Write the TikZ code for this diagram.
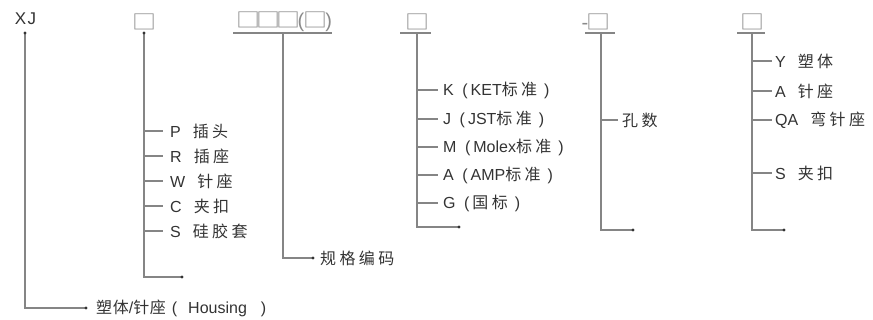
\documentclass[tikz,border=0pt]{standalone}
\usepackage{graphicx}
\usepackage{fontspec}
\setmainfont{Liberation Sans}
\newfontfamily\cjk[LetterSpace=21]{Noto Sans CJK SC}
\newfontfamily\cjkt[LetterSpace=4]{Noto Sans CJK SC}
\newfontfamily\sqf{Noto Sans CJK SC}
\definecolor{txt}{HTML}{333333}
\definecolor{ln}{HTML}{858585}
\definecolor{sqc}{HTML}{8A8A8A}
\newcommand\gp{\hspace{12pt}}
\newcommand\lpar{\hspace{8.5pt}(\hspace{3pt}}
\newcommand\rpar{\hspace{7pt})}
\newcommand\bx{\scalebox{1.2}[1]{\sqf □}}
\begin{document}
\begin{tikzpicture}[x=1pt,y=-1pt,
  hdr/.style={inner sep=0pt, font=\fontsize{20}{20}\selectfont},
  lab/.style={inner sep=0pt, anchor=west, text=txt, font=\fontsize{16}{16}\selectfont},
  conn/.style={draw=ln, line width=1.1pt},
  tip/.style={circle, fill=txt, inner sep=0pt, minimum size=3.4pt}]
\useasboundingbox (0,0) rectangle (873,320);
% headers
\node[hdr, text=txt, font=\fontsize{17}{17}\selectfont] (xj) at (25.5,19) {X\hspace{1.5pt}J};
\node[hdr, text=sqc] (h1) at (144,21.5) {\bx};
\node[hdr, text=sqc] (h2) at (284,21.5) {\bx\hspace{-4pt}\bx\hspace{-4pt}\bx\hspace{-2.5pt}(\hspace{-0.5pt}\bx\hspace{-2.5pt})};
\node[hdr, text=sqc] (h3) at (417,21.5) {\bx};
\node[hdr, text=sqc] (h4) at (596,21.5) {-\hspace{-2pt}\bx};
\node[hdr, text=sqc] (h5) at (752,21.5) {\bx};
% underlines
\draw[conn] (233,33) -- (332,33);
\draw[conn] (400,33) -- (431,33);
\draw[conn] (585,33) -- (615,33);
\draw[conn] (737,33) -- (765,33);
% trunk tops
\coordinate (t0) at (25,33);
\coordinate (t1) at (144,33);
\coordinate (t2) at (283,33);
\coordinate (t3) at (417,33);
\coordinate (t4) at (601,33);
\coordinate (t5) at (752,33);
% end labels
\node[lab] (hous) at (96,308) {{\cjkt 塑体}/{\cjkt 针座}\hspace{6pt}(\hspace{11pt}Housing\hspace{14pt})};
\node[lab] (gg) at (320,258) {\cjk 规格编码};
\coordinate (e1) at (182,277);
\coordinate (e3) at (459,227);
\coordinate (e4) at (633,230);
\coordinate (e5) at (784,230);
% group 1 labels
\node[lab] (p) at (170,131) {P\gp{\cjk 插头}};
\node[lab] (r) at (170,156) {R\gp{\cjk 插座}};
\node[lab] (w) at (170,181) {W\gp{\cjk 针座}};
\node[lab] (c) at (170,206) {C\gp{\cjk 夹扣}};
\node[lab] (s) at (170,231) {S\gp{\cjk 硅胶套}};
% group 3 labels
\node[lab] (k) at (443,90) {K\lpar KET{\cjk 标准}\rpar};
\node[lab] (j) at (443,119) {J\lpar JST{\cjk 标准}\rpar};
\node[lab] (m) at (443,147) {M\lpar Molex{\cjk 标准}\rpar};
\node[lab] (a) at (443,175) {A\lpar AMP{\cjk 标准}\rpar};
\node[lab] (g) at (443,203) {G\lpar{\cjk 国标}\rpar};
% group 4 label
\node[lab] (ks) at (622,120) {\cjk 孔数};
% group 5 labels
\node[lab] (y) at (775,61) {Y\gp{\cjk 塑体}};
\node[lab] (a5) at (775,91) {A\gp{\cjk 针座}};
\node[lab] (qa) at (775,120) {QA\gp{\cjk 弯针座}};
\node[lab] (s5) at (775,173) {S\gp{\cjk 夹扣}};
% trunks
\draw[conn] (t0) |- ([xshift=-10pt]hous.west) coordinate (d0);
\draw[conn] (t1) |- (e1);
\draw[conn] (t2) |- ([xshift=-7pt]gg.west) coordinate (d2);
\draw[conn] (t3) |- (e3);
\draw[conn] (t4) |- (e4);
\draw[conn] (t5) |- (e5);
% dots
\node[tip] at (t0) {};
\node[tip] at (t1) {};
\node[tip] at (d0) {};
\node[tip] at (e1) {};
\node[tip] at (d2) {};
\node[tip] at (e3) {};
\node[tip] at (e4) {};
\node[tip] at (e5) {};
% branches
\foreach \n in {p,r,w,c,s} \draw[conn] (t1 |- \n.west) -- ([xshift=-7pt]\n.west);
\foreach \n in {k,j,m,a,g} \draw[conn] (t3 |- \n.west) -- ([xshift=-5pt]\n.west);
\draw[conn] (t4 |- ks.west) -- ([xshift=-4pt]ks.west);
\foreach \n in {y,a5,qa,s5} \draw[conn] (t5 |- \n.west) -- ([xshift=-3pt]\n.west);
\end{tikzpicture}
\end{document}
